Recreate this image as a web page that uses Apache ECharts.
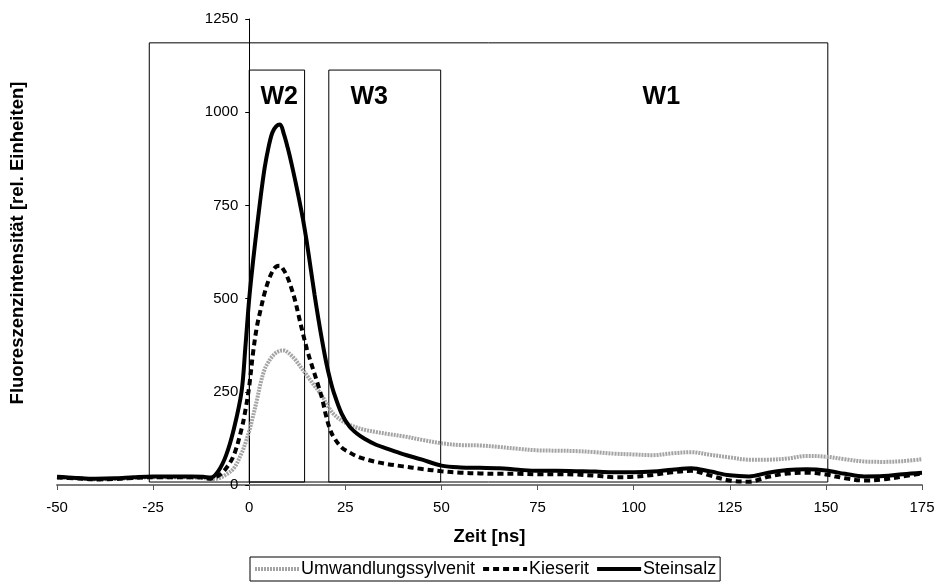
<!DOCTYPE html>
<html>
<head>
<meta charset="utf-8">
<script src="https://cdn.jsdelivr.net/npm/echarts@6/dist/echarts.min.js"></script>
<style>
html,body{margin:0;padding:0;background:#fff;}
#chart{width:942px;height:584px;}
</style>
</head>
<body>
<div id="chart"></div>
<script>
// ---- data ----
var timeNs = [-50,-45,-40,-35,-30,-25,-20,-15,-12,-10,-8,-6,-4,-2,-1,0,1,2,3,4,5,6,7,8,9,10,11,12,13,14,15,16,17,18,19,20,21,22,24,26,28,30,33,36,40,45,50,55,60,65,70,75,80,85,90,95,100,105,110,115,120,125,130,135,140,145,150,155,160,165,170,175];

var umwandlungssylvenit = [20,18,15,16,19,21,21,20,19,16,18,28,45,85,112,145,185,228,275,310,330,345,355,360,361,356,347,336,322,308,294,280,266,253,238,220,203,190,173,162,154,148,142,137,131,121,112,107,106,102,97,93,92,91,88,84,82,80,85,88,81,74,68,68,71,78,76,69,63,62,64,69];

var kieserit = [20,18,15,16,19,21,21,21,20,17,25,45,80,150,200,265,355,425,472,515,548,572,586,588,576,556,527,492,448,405,365,330,298,265,230,185,150,128,101,88,77,70,62,56,50,43,37,33,31,30,30,29,29,28,25,21,22,27,34,38,25,12,9,22,31,33,28,18,12,15,23,31];

var steinsalz = [22,19,17,18,21,23,23,23,22,20,38,80,150,250,370,500,600,690,775,850,905,945,962,967,942,905,862,815,765,712,650,580,510,445,385,330,285,248,192,158,138,124,108,97,83,68,52,47,46,45,41,38,38,37,36,34,34,36,41,45,36,26,23,33,40,42,39,30,23,24,29,33];

var seriesNames = ['Umwandlungssylvenit', 'Kieserit', 'Steinsalz'];

// measurement windows (data units)
var windowNames  = ['W1', 'W2', 'W3'];
var windowStart  = [-26, 0, 20.7];
var windowEnd    = [150.5, 14.4, 49.8];
var windowLow    = [8, 8, 8];
var windowHigh   = [1186, 1113, 1113];
var windowLabelX = [107.2, 7.8, 31.2];
var windowLabelY = [1041, 1041, 1041];

var xTicks = {min: -50, max: 175, interval: 25};
var yTicks = {min: 0, max: 1250, interval: 250};

// ---- chart ----
var FONT = '"Liberation Sans", Arial, Helvetica, sans-serif';
function pairs(vals){ return timeNs.map(function(t,i){ return [t, vals[i]]; }); }

var W = 942, GRID_L = 57, GRID_R = 20;
// y axis crosses the x axis at x = 0: shift it inward from the grid's left edge
var yAxisShift = -(0 - xTicks.min) / (xTicks.max - xTicks.min) * (W - GRID_L - GRID_R);

var chart = echarts.init(document.getElementById('chart'), null, {renderer:'canvas'});

var option = {
  animation: false,
  backgroundColor: '#fff',
  textStyle: {fontFamily: FONT},
  grid: {left: GRID_L, right: GRID_R, top: 19, bottom: 99, containLabel: false},
  xAxis: {
    type: 'value', min: xTicks.min, max: xTicks.max, interval: xTicks.interval,
    name: 'Zeit [ns]', nameLocation: 'middle', nameGap: 42,
    nameTextStyle: {fontSize: 18.5, fontWeight: 'bold', color: '#000', fontFamily: FONT},
    axisLine: {show: true, onZero: false, lineStyle: {color: '#7a7a7a', width: 2}},
    axisTick: {show: true, inside: false, length: 5, lineStyle: {color: '#555', width: 1}},
    axisLabel: {fontSize: 15, color: '#000', margin: 15, fontFamily: FONT,
                formatter: function(v){ return String(v); }},
    splitLine: {show: false}
  },
  yAxis: {
    type: 'value', min: yTicks.min, max: yTicks.max, interval: yTicks.interval,
    position: 'left', offset: yAxisShift,
    axisLine: {show: true, onZero: false, lineStyle: {color: '#000', width: 1}},
    axisTick: {show: true, inside: false, length: 4, lineStyle: {color: '#000', width: 1}},
    axisLabel: {fontSize: 15, color: '#000', margin: 11, fontFamily: FONT,
                formatter: function(v){ return String(v); }},
    splitLine: {show: false}
  },
  legend: {
    data: seriesNames,
    left: 250, top: 557,
    orient: 'horizontal',
    backgroundColor: '#fff', borderColor: '#000', borderWidth: 1, borderRadius: 0,
    padding: [3, 4, 3, 3],
    itemGap: 6, itemWidth: 44, itemHeight: 14,
    itemStyle: {opacity: 0},
    lineStyle: {width: 4},
    textStyle: {fontSize: 18, color: '#000', fontFamily: FONT, padding: [0,0,0,-3]},
    selectedMode: false
  },
  graphic: [{
    type: 'text', x: 18, y: 243, rotation: Math.PI / 2,
    style: {text: 'Fluoreszenzintensität [rel. Einheiten]', font: 'bold 18.5px ' + FONT,
            fill: '#000', align: 'center', verticalAlign: 'middle'}
  }],
  series: [
    {
      name: 'windows', type: 'scatter', z: 1, symbolSize: 1,
      itemStyle: {color: 'rgba(0,0,0,0)', opacity: 1}, silent: true,
      label: {show: true, position: 'inside', formatter: function(p){ return p.name; },
              fontSize: 25, fontWeight: 'bold', color: '#000', opacity: 1,
              textBorderWidth: 0, fontFamily: FONT},
      data: windowNames.map(function(n,i){ return {name: n, value: [windowLabelX[i], windowLabelY[i]]}; }),
      markArea: {
        silent: true,
        itemStyle: {color: 'rgba(0,0,0,0)', borderColor: '#000', borderWidth: 1, opacity: 1},
        label: {show: false},
        data: windowNames.map(function(n,i){
          return [{coord: [windowStart[i], windowLow[i]]}, {coord: [windowEnd[i], windowHigh[i]]}];
        })
      }
    },
    {
      name: seriesNames[0], type: 'line', z: 3, symbol: 'none', smooth: 0.35,
      lineStyle: {color: '#a4a4a4', width: 4, type: [2, 1]},
      itemStyle: {color: '#a4a4a4'},
      data: pairs(umwandlungssylvenit)
    },
    {
      name: seriesNames[1], type: 'line', z: 4, symbol: 'none', smooth: 0.35,
      lineStyle: {color: '#000', width: 4, type: [6, 4]},
      itemStyle: {color: '#000'},
      data: pairs(kieserit)
    },
    {
      name: seriesNames[2], type: 'line', z: 5, symbol: 'none', smooth: 0.35,
      lineStyle: {color: '#000', width: 4, type: 'solid'},
      itemStyle: {color: '#000'},
      data: pairs(steinsalz)
    }
  ]
};
chart.setOption(option);
</script>
</body>
</html>
